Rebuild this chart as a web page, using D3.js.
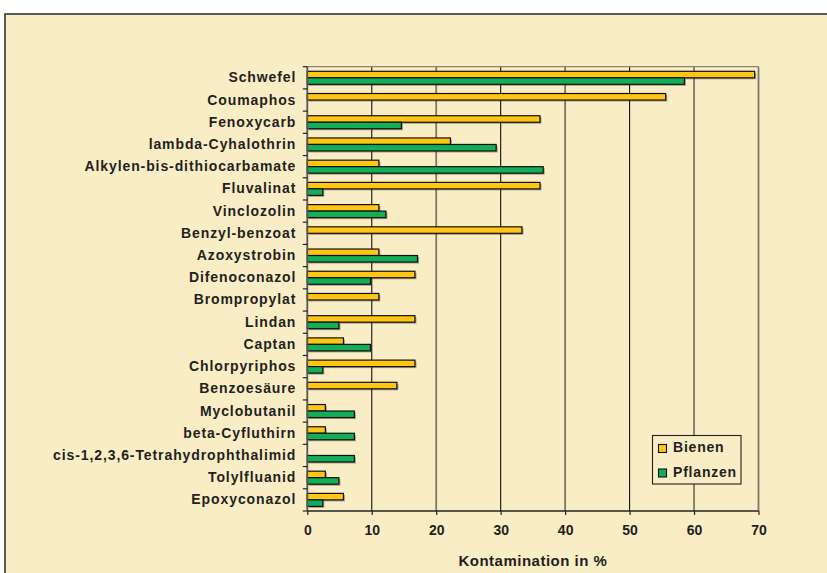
<!DOCTYPE html>
<html><head><meta charset="utf-8">
<script src="https://cdn.jsdelivr.net/npm/d3@7"></script>
<style>
html,body{margin:0;padding:0;background:#fff;}
svg{display:block;}
text{font-family:"Liberation Sans",Arial,sans-serif;font-weight:bold;fill:#231f20;}
</style></head>
<body>
<svg id="c" width="827" height="573"></svg>
<script>
const categories = ["Schwefel","Coumaphos","Fenoxycarb","lambda-Cyhalothrin","Alkylen-bis-dithiocarbamate","Fluvalinat","Vinclozolin","Benzyl-benzoat","Azoxystrobin","Difenoconazol","Brompropylat","Lindan","Captan","Chlorpyriphos","Benzoesäure","Myclobutanil","beta-Cyfluthirn","cis-1,2,3,6-Tetrahydrophthalimid","Tolylfluanid","Epoxyconazol"];
const bienen   = [69.4,55.6,36.1,22.2,11.1,36.1,11.1,33.3,11.1,16.7,11.1,16.7,5.6,16.7,13.9,2.8,2.8,0,2.8,5.6];
const pflanzen = [58.5,0,14.6,29.3,36.6,2.4,12.2,0,17.1,9.8,0,4.9,9.8,2.4,0,7.3,7.3,7.3,4.9,2.4];
const seriesNames = ["Bienen","Pflanzen"];
const xTicks = [0,10,20,30,40,50,60,70];
const xTitle = "Kontamination in %";

(function(){
const colors = {Bienen:"#ffc614", Pflanzen:"#12ae58"};
const svg = d3.select("#c");

svg.append("rect").attr("x",5).attr("y",14).attr("width",840).attr("height",580)
  .attr("fill","#f9edc6").attr("stroke","#333").attr("stroke-width",1.6);

const pL = 307.3, pR = 758.5, pT = 66.7, pB = 511;
const x = d3.scaleLinear().domain([0,70]).range([pL,pR]);
const y = d3.scaleBand().domain(categories).range([pT,pB]).paddingInner(0.415).paddingOuter(0.2075);
const ys = d3.scaleBand().domain(seriesNames).range([0,y.bandwidth()]);

svg.append("g").selectAll("line").data(xTicks.filter(t=>t>0)).join("line")
  .attr("x1",d=>x(d)).attr("x2",d=>x(d)).attr("y1",pT).attr("y2",pB)
  .attr("stroke",d=> (d%20===0 || d===70) ? "#7d7864" : "#111")
  .attr("stroke-width",d=> (d%20===0 || d===70) ? 1.8 : 1.1);
svg.append("line").attr("x1",pL).attr("x2",pR).attr("y1",pT).attr("y2",pT)
  .attr("stroke","#8a8570").attr("stroke-width",1.3);

const data = [];
categories.forEach((c,i)=>{
  data.push({c, s:"Bienen", v:bienen[i]});
  data.push({c, s:"Pflanzen", v:pflanzen[i]});
});
const bars = data.filter(d=>d.v>0);
svg.append("g").selectAll("rect").data(bars).join("rect")
  .attr("x",x(0)+1.5).attr("y",d=>y(d.c)+ys(d.s)+1.5)
  .attr("width",d=>x(d.v)-x(0)).attr("height",ys.bandwidth())
  .attr("fill","rgba(60,55,40,0.45)");
svg.append("g").selectAll("rect").data(bars).join("rect")
  .attr("x",x(0)).attr("y",d=>y(d.c)+ys(d.s))
  .attr("width",d=>x(d.v)-x(0)).attr("height",ys.bandwidth())
  .attr("fill",d=>colors[d.s]).attr("stroke","#111").attr("stroke-width",1.2);

const xAxis = d3.axisBottom(x).tickValues(xTicks).tickSize(4).tickPadding(10).tickFormat(d3.format("d"));
const gx = svg.append("g").attr("transform",`translate(0,${pB})`).call(xAxis);
gx.select(".domain").attr("stroke","#222").attr("stroke-width",1.4).attr("d",`M${pL},0H${pR}`);
gx.selectAll(".tick line").attr("stroke","#222").attr("stroke-width",1.2);
gx.selectAll(".tick text").style("font-size","14px").style("font-family","'Liberation Sans',Arial,sans-serif").attr("fill","#231f20");

const yTickPos = d3.range(categories.length+1).map(i=>pT + i*(pB-pT)/categories.length);
svg.append("line").attr("x1",pL).attr("x2",pL).attr("y1",pT).attr("y2",pB)
  .attr("stroke","#555").attr("stroke-width",1.8);
svg.append("g").selectAll("line").data(yTickPos).join("line")
  .attr("x1",pL-4.5).attr("x2",pL).attr("y1",d=>d).attr("y2",d=>d)
  .attr("stroke","#222").attr("stroke-width",1.2);
const yAxis = d3.axisLeft(y).tickSize(0).tickPadding(11);
const gy = svg.append("g").attr("transform",`translate(${pL},0)`).call(yAxis);
gy.select(".domain").remove();
gy.selectAll(".tick text").style("font-size","14px").style("letter-spacing","0.9px")
  .style("font-family","'Liberation Sans',Arial,sans-serif").attr("fill","#231f20");

svg.append("text").attr("x",(pL+pR)/2).attr("y",566).attr("text-anchor","middle")
  .style("font-size","15px").style("letter-spacing","0.5px").text(xTitle);

const lg = svg.append("g");
lg.append("rect").attr("x",652.5).attr("y",435.5).attr("width",88.5).attr("height",48.5)
  .attr("fill","#f9edc6").attr("stroke","#222").attr("stroke-width",1.1);
seriesNames.forEach((s,i)=>{
  lg.append("rect").attr("x",658.5).attr("y",444.5 + i*24.5).attr("width",8).attr("height",8)
    .attr("fill",colors[s]).attr("stroke","#111").attr("stroke-width",1.1);
  lg.append("text").attr("x",673).attr("y",452.3 + i*25).style("font-size","14px")
    .style("letter-spacing","0.8px").text(s);
});
})();
</script>
</body></html>
